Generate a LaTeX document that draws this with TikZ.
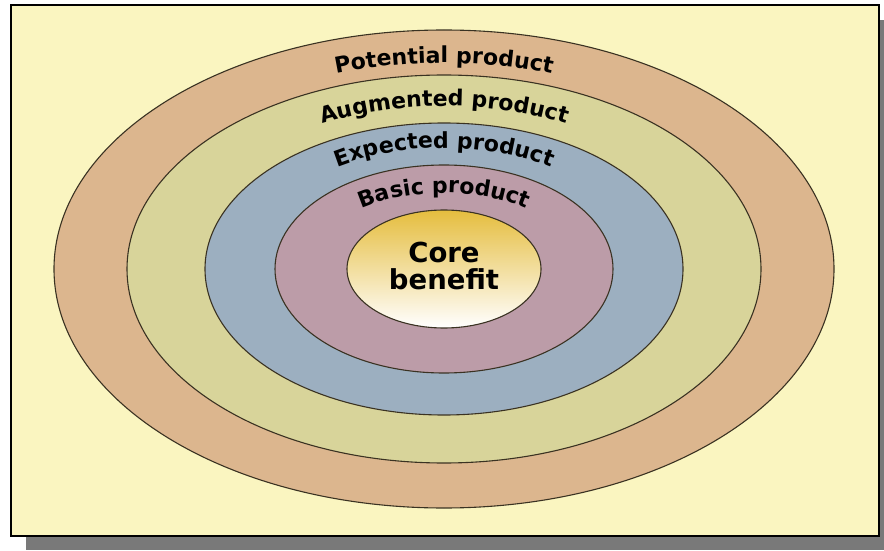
\documentclass[tikz,border=0pt]{standalone}
\usepackage{fontspec}
\usetikzlibrary{decorations.text}
\newfontfamily\ringfont{DejaVu Sans}
\newfontfamily\corefont{DejaVu Sans}
\definecolor{paper}{HTML}{FAF5C0}
\definecolor{potential}{HTML}{DCB68E}
\definecolor{augmented}{HTML}{D8D49A}
\definecolor{expected}{HTML}{9CAFC0}
\definecolor{basic}{HTML}{BC9CA8}
\definecolor{coregold}{HTML}{E5BD3E}
\definecolor{rim}{HTML}{3A3222}
\newcommand{\ringtext}{\ringfont\bfseries\fontsize{22}{22}\selectfont}

\begin{document}
\begin{tikzpicture}[x=1pt, y=1pt,
        ring/.style={draw=rim, line width=1.1pt},
        ringlabel/.style={decorate, decoration={text along path, text align=center, text={#1}}}]
    \useasboundingbox (0, 0) rectangle (884, 550);
    \fill[color=gray!95!black] (26, 0) rectangle (884, 530);
    \draw[fill=paper, line width=1.8pt] (11, 14) rectangle (879, 545);

    \coordinate (c) at (444, 281);
    \draw[ring, fill=potential] (c) ellipse [x radius=390, y radius=239];
    \draw[ring, fill=augmented] (c) ellipse [x radius=317, y radius=194];
    \draw[ring, fill=expected] (c) ellipse [x radius=239, y radius=146];
    \draw[ring, fill=basic] (c) ellipse [x radius=169, y radius=104];
    \draw[ring, top color=coregold, bottom color=white] (c) ellipse [x radius=97, y radius=59];

    % labels on the rings
    \path[ringlabel={|\ringtext|Potential product}] (c) ++(150:338 and 206) arc[start angle=150, end angle=30, x radius=338, y radius=206];
    \path[ringlabel={|\ringtext|Augmented product}] (c) ++(150:268 and 163) arc[start angle=150, end angle=30, x radius=268, y radius=163];
    \path[ringlabel={|\ringtext|Expected product}] (c) ++(150:198 and 121) arc[start angle=150, end angle=30, x radius=198, y radius=121];
    \path[ringlabel={|\ringtext|Basic product}] (c) ++(150:135 and 76) arc[start angle=150, end angle=30, x radius=135, y radius=76];

    \node[font=\corefont\bfseries\fontsize{27.5}{26.5}\selectfont, align=center] (core) at (444, 284) {Core\\benefit};
\end{tikzpicture}
\end{document}
